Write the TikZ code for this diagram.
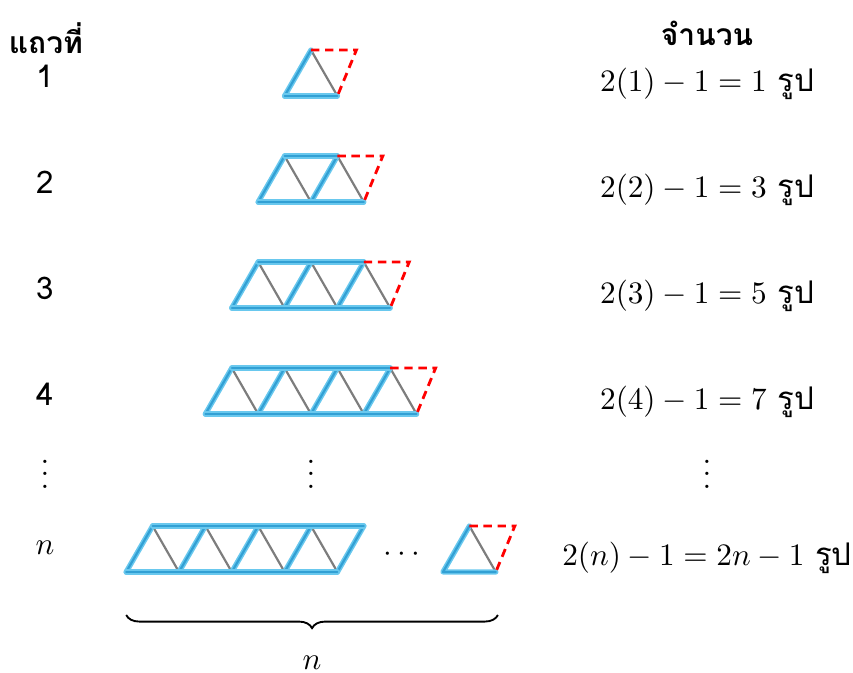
\documentclass[tikz,border=0pt]{standalone}
\usepackage{fontspec}
\newfontfamily\thaifont[Script=Thai]{Loma}
\usetikzlibrary{decorations.pathreplacing}
\definecolor{stickblue}{RGB}{105,200,238}
\definecolor{stickcore}{RGB}{50,160,212}
\definecolor{stickgrey}{RGB}{125,125,125}
\definecolor{dashred}{RGB}{255,0,0}
\tikzset{
  bluestick/.style={draw=stickblue, line width=1.7pt, line cap=round, line join=round,
    postaction={draw=stickcore, line width=0.7pt}},
  greystick/.style={draw=stickgrey, line width=0.7pt},
  reddash/.style={draw=dashred, line width=0.9pt, dash pattern=on 2.7pt off 1.8pt},
  headtext/.style={font=\fontsize{9.6}{11}\thaifont\bfseries},
  rowtext/.style={font=\thaifont, anchor=base},
  counttext/.style={font=\thaifont, anchor=base},
}
\begin{document}
\begin{tikzpicture}[x=0.594cm, y=0.594cm]
  \useasboundingbox (0,0) rectangle (16.155,12.746);
  % headers
  \node[headtext] (rowhead) at (0.87,12.03) {แถวที่};
  \node[headtext] (counthead) at (13.39,12.12) {จำนวน};
  % rows 1 to 4
  \foreach \k/\v in {1/10.928, 2/8.920, 3/6.913, 4/4.905}{
    \pgfmathsetmacro{\leftx}{5.89-0.5*\k}
    \foreach \i in {1,...,\k}{
      \draw[greystick] (\leftx+\i-0.5,\v+0.87) -- (\leftx+\i,\v);
      \draw[bluestick] (\leftx+\i-1,\v) -- (\leftx+\i-0.5,\v+0.87);
    }
    \draw[bluestick] (\leftx,\v) -- (\leftx+\k,\v);
    \ifnum\k>1
      \draw[bluestick] (\leftx+0.5,\v+0.87) -- (\leftx+\k-0.5,\v+0.87);
    \fi
    \draw[reddash] (\leftx+\k-0.5,\v+0.87) -- (\leftx+\k+0.36,\v+0.87) -- (\leftx+\k,\v);
    \node[rowtext] (row\k) at (0.852,\v+0.17) {\k};
    \node[counttext] (count\k) at (13.39,\v+0.09) {$2(\k)-1=\the\numexpr2*\k-1\relax$ รูป};
  }
  % dots
  \node (rowdots) at (0.852,3.94) {$\vdots$};
  \node (picdots) at (5.89,3.94) {$\vdots$};
  \node (countdots) at (13.39,3.94) {$\vdots$};
  % row n
  \foreach \i in {0,...,3}{
    \draw[greystick] (2.89+\i,2.783) -- (3.39+\i,1.913);
  }
  \foreach \i in {0,...,4}{
    \draw[bluestick] (2.39+\i,1.913) -- (2.89+\i,2.783);
  }
  \draw[bluestick] (2.39,1.913) -- (6.39,1.913);
  \draw[bluestick] (2.89,2.783) -- (6.89,2.783);
  \node[anchor=base] (rowcdots) at (7.61,2.12) {$\cdots$};
  \draw[greystick] (8.89,2.783) -- (9.39,1.913);
  \draw[bluestick] (9.39,1.913) -- (8.39,1.913) -- (8.89,2.783);
  \draw[reddash] (8.89,2.783) -- (9.75,2.783) -- (9.39,1.913);
  \node[rowtext] (rown) at (0.852,2.235) {$n$};
  \node[counttext] (countn) at (13.39,2.045) {$2(n)-1=2n-1$ รูป};
  % brace under row n
  \coordinate (braceL) at (2.39,1.098);
  \coordinate (braceR) at (9.43,1.098);
  \draw[line width=0.6pt, decorate, decoration={brace, mirror, amplitude=4.2pt}] (braceL) -- (braceR);
  \node (bracen) at (5.91,0.2) {$n$};
\end{tikzpicture}
\end{document}
